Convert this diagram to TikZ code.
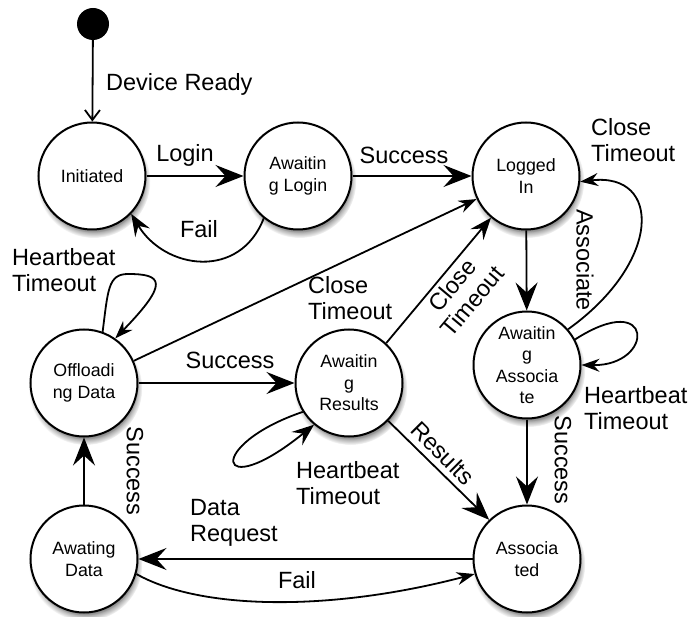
\documentclass[tikz,border=0pt]{standalone}
\usepackage{fontspec}
\setmainfont{Liberation Sans}
\usetikzlibrary{arrows.meta,shadows}
\begin{document}
\begin{tikzpicture}[x=1pt,y=-1pt,
  state/.style={circle,draw,line width=2pt,fill=white,minimum size=107pt,inner sep=0pt,align=center,
    font=\fontsize{17.8}{21.5}\selectfont,
    circular drop shadow={shadow xshift=1.5pt,shadow yshift=-5pt,shadow scale=1.06,opacity=0.9},
    drop shadow={shadow xshift=1pt,shadow yshift=-3pt,opacity=0.22}},
  lbl/.style={font=\fontsize{23.5}{26}\selectfont,inner sep=0pt},
  edge/.style={line width=1.8pt},
  big/.style={edge,-{Stealth[length=28pt,width=22pt,inset=10pt]}},
  med/.style={edge,-{Stealth[length=22pt,width=17pt,inset=8pt]}},
  small/.style={edge,-{Stealth[length=18pt,width=13pt,inset=6pt]}},
  open/.style={edge,-{Straight Barb[length=10pt,width=15pt]}},
]
\useasboundingbox (0,0) rectangle (690,617);

\node[circle,fill=black,inner sep=0pt,minimum size=32pt] (start) at (93,24) {};
\node[state] (init) at (92,176) {Initiated};
\node[state] (al) at (298,176) {Awaitin\\g Login};
\node[state] (li) at (526,176) {Logged\\In};
\node[state] (od) at (84,383) {Offloadi\\ng Data};
\node[state] (ar) at (349,383) {Awaitin\\g\\Results};
\node[state] (aa) at (527,365) {Awaitin\\g\\Associa\\te};
\node[state] (ad) at (84,559) {Awating\\Data};
\node[state] (as) at (527,559) {Associa\\ted};

% edges
\draw[open] (start) -- (init);
\draw[big] (init) -- (al);
\draw[med] (al.231) .. controls (240,280) and (165,270) .. (init.316);
\draw[big] (al) -- (li);
\draw[small] (od.24) -- (li.205);
\draw[big] (od) -- (ar);
\draw[small] (od.70) .. controls (108,290) and (108,274) .. (128,274)
  .. controls (162,274) and (170,282) .. (od.55);
\draw[med] (ar.47) -- (li.230);
\draw[big] (li) -- (aa);
\draw[small] (aa.41) .. controls (662,262) and (662,172) .. (li.-6);
\draw[small] (aa.28) .. controls (655,288) and (655,366) .. (aa.0);
\draw[big] (ar.-44) -- (as.134);
\draw[med] (ar.212) .. controls (205,445) and (215,505) .. (ar.230);
\draw[big] (aa) -- (as);
\draw[big] (ad) -- (od);
\draw[big] (as) -- (ad);
\draw[small] (ad.-16) .. controls (200,610) and (330,612) .. (as.196);

% labels
\node[lbl,anchor=west] (l1) at (106,84) {Device Ready};
\node[lbl] (l2) at (185,155) {Login};
\node[lbl] (l3) at (199,229) {Fail};
\node[lbl] (l4) at (404,155) {Success};
\node[lbl,anchor=west,align=left] (l5) at (591,140) {Close\\Timeout};
\node[lbl,anchor=west,align=left] (l6) at (12,270) {Heartbeat\\Timeout};
\node[lbl,anchor=west,align=left] (l7) at (308,298) {Close\\Timeout};
\node[lbl] (l8) at (230,360) {Success};
\node[lbl,rotate=50,align=center] (l9) at (462,293) {Close\\Timeout};
\node[lbl,rotate=-90] (l10) at (585,260) {Associate};
\node[lbl,anchor=west,align=left] (l11) at (584,408) {Heartbeat\\Timeout};
\node[lbl,anchor=west,align=left] (l12) at (296,483) {Heartbeat\\Timeout};
\node[lbl,rotate=-45] (l13) at (443,453) {Results};
\node[lbl,rotate=-90] (l14) at (563,460) {Success};
\node[lbl,rotate=-90] (l15) at (135,471) {Success};
\node[lbl,anchor=west,align=left] (l16) at (190,523) {Data\\Request};
\node[lbl] (l17) at (297,580) {Fail};
\end{tikzpicture}
\end{document}
